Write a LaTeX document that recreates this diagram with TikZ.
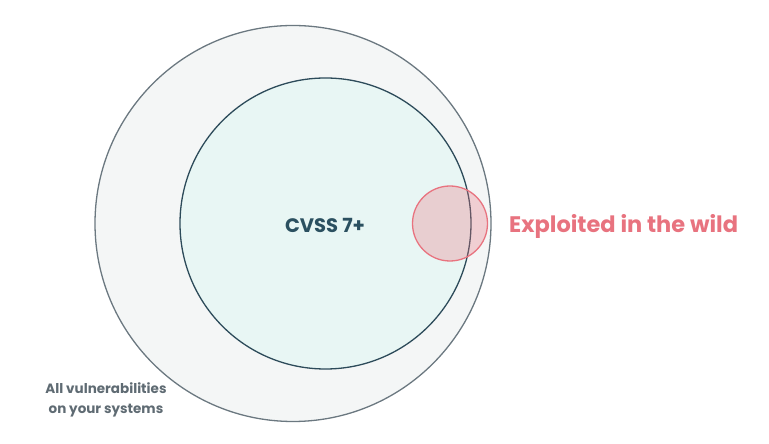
\documentclass[tikz,border=0pt]{standalone}
\usepackage{fontspec}
\setmainfont{Poppins}
\definecolor{outerfill}{HTML}{F4F6F6}
\definecolor{outerline}{HTML}{6B7880}
\definecolor{innerfill}{HTML}{E8F6F4}
\definecolor{innerline}{HTML}{2D4B5A}
\definecolor{redc}{HTML}{E8737F}
\definecolor{cvsstext}{HTML}{2B5060}
\definecolor{graytext}{HTML}{5F6B73}
\begin{document}
\begin{tikzpicture}[x=1pt,y=1pt,
  ring/.style={circle,inner sep=0pt,line width=1.3pt},
  lbl/.style={font=\bfseries,inner sep=0pt}]
\useasboundingbox (0,0) rectangle (769,444);
\node[ring,draw=outerline,fill=outerfill,minimum size=396pt] (outer) at (293,220.5) {};
\node[ring,draw=innerline,fill=innerfill,minimum size=291pt] (inner) at (325.5,220.5) {};
\node[ring,draw=redc,fill=redc,fill opacity=0.3,draw opacity=1,minimum size=75pt] (wild) at (450,220.5) {};
\node[lbl,text=cvsstext,font=\bfseries\fontsize{19.5}{22}\selectfont] (cvss) at (325,219) {CVSS 7+};
\node[lbl,text=redc,anchor=west,font=\bfseries\fontsize{22.5}{26}\selectfont] (expl) at (509,217.5) {Exploited in the wild};
\node[lbl,text=graytext,align=center,font=\bfseries\fontsize{13.5}{20}\selectfont] (all) at (106,44) {All vulnerabilities\\on your systems};
\end{tikzpicture}
\end{document}
